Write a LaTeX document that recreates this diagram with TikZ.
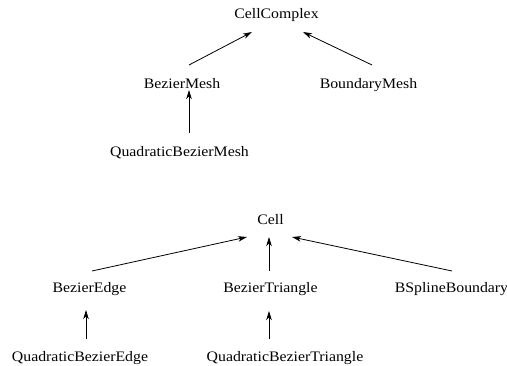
\documentclass[tikz,border=0pt]{standalone}
\usepackage{fontspec}
\setmainfont{Liberation Serif}[FakeStretch=1.09]
\usetikzlibrary{arrows.meta}
\begin{document}
\begin{tikzpicture}[x=1pt,y=-1pt,
  cls/.style={anchor=base,inner sep=0pt,font=\fontsize{14.5}{17}\selectfont},
  arr/.style={draw=black,line width=0.8pt,-{Stealth[length=9pt,width=5.5pt,inset=2.5pt]}}]
\useasboundingbox (0,0) rectangle (507,366);
% upper hierarchy
\node[cls] (cc)   at (276.5,19)  {CellComplex};
\node[cls] (bm)   at (182,89)    {BezierMesh};
\node[cls] (bdm)  at (368.5,89)  {BoundaryMesh};
\node[cls] (qbm)  at (179.5,157) {QuadraticBezierMesh};
% lower hierarchy
\node[cls] (cell) at (270.5,225) {Cell};
\node[cls] (be)   at (89.5,293)  {BezierEdge};
\node[cls] (bt)   at (270.5,293) {BezierTriangle};
\node[cls] (bsb)  at (451.5,293) {BSplineBoundary};
\node[cls] (qbe)  at (80,362)    {QuadraticBezierEdge};
\node[cls] (qbt)  at (285,362)   {QuadraticBezierTriangle};
% connectors
\draw[arr] ([shift={(7,-24)}]bm.base)    -- ([shift={(-24.5,13)}]cc.base);
\draw[arr] ([shift={(3.5,-24)}]bdm.base) -- ([shift={(26.5,13)}]cc.base);
\draw[arr] ([shift={(9.5,-24)}]qbm.base) -- ([shift={(7,1)}]bm.base);
\draw[arr] ([shift={(2.5,-22)}]be.base)  -- ([shift={(-23.5,12)}]cell.base);
\draw[arr] ([shift={(-1.5,-22)}]bt.base) -- ([shift={(-1.5,12)}]cell.base);
\draw[arr] ([shift={(0.5,-22)}]bsb.base) -- ([shift={(21.5,12)}]cell.base);
\draw[arr] ([shift={(6,-23)}]qbe.base)   -- ([shift={(-3.5,17)}]be.base);
\draw[arr] ([shift={(-16,-23)}]qbt.base) -- ([shift={(-1.5,18)}]bt.base);
\end{tikzpicture}
\end{document}
